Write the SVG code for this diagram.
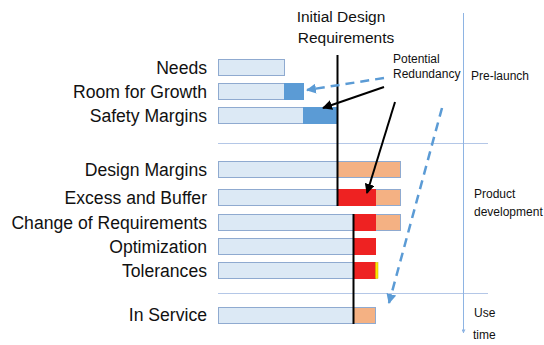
<svg xmlns="http://www.w3.org/2000/svg" width="544" height="345" viewBox="0 0 544 345">
<style>
.lbl{font-family:"Liberation Sans",Arial,sans-serif;font-size:17.6px;fill:#111;text-anchor:end}
.sm{font-family:"Liberation Sans",Arial,sans-serif;font-size:12px;fill:#111}
.hd{font-family:"Liberation Sans",Arial,sans-serif;font-size:15.5px;fill:#111}
.bar{fill:#DCE9F5;stroke:#8FAAD0;stroke-width:1}
.dk{fill:#5B9BD5;stroke:#5B9BD5;stroke-width:1}
.or{fill:#F4B183;stroke:#8FAAD0;stroke-width:1}
.rd{fill:#EE2222;stroke:#EE2222;stroke-width:1}
.div{stroke:#B4C7E7;stroke-width:1;fill:none}
.blk{stroke:#000;stroke-width:2;fill:none}
.bd{stroke:#5B9BD5;stroke-width:2.5;stroke-dasharray:9,6;fill:none}
</style>
<defs>
<marker id="ab" viewBox="0 0 10 10" refX="9" refY="5" markerWidth="5" markerHeight="5" orient="auto" markerUnits="strokeWidth"><path d="M0,0 L10,5 L0,10 z" fill="#000"/></marker>
<marker id="ub" viewBox="0 0 10 10" refX="9" refY="5" markerWidth="4" markerHeight="4" orient="auto" markerUnits="strokeWidth"><path d="M0,0 L10,5 L0,10 z" fill="#5B9BD5"/></marker>
<marker id="tb" viewBox="0 0 10 10" refX="9" refY="5" markerWidth="4" markerHeight="4" orient="auto"><path d="M0,0 L10,5 L0,10 z" fill="#8EB4E3"/></marker>
</defs>
<g id="dividers">
<line class="div" x1="218" y1="143.5" x2="488" y2="143.5"/>
<line class="div" x1="218" y1="293.5" x2="488" y2="293.5"/>
<line x1="463.5" y1="13" x2="463.5" y2="333" stroke="#8EB4E3" stroke-width="1" marker-end="url(#tb)"/>
</g>
<g id="phases">
<text class="sm" x="471" y="80">Pre-launch</text>
<text class="sm" x="474" y="198">Product</text>
<text class="sm" x="474" y="216">development</text>
<text class="sm" x="474" y="317">Use</text>
<text class="sm" x="473" y="339">time</text>
</g>
<g id="initial-design">
<text class="hd" x="341" y="22" text-anchor="middle">Initial Design</text>
<text class="hd" x="346" y="43" text-anchor="middle">Requirements</text>
</g>
<g id="potential-redundancy">
<text class="sm" x="393" y="63">Potential</text>
<text class="sm" x="393" y="78">Redundancy</text>
</g>
<g id="needs"><text class="lbl" x="207" y="74">Needs</text><rect class="bar" x="218.5" y="59.5" width="66" height="16"/></g>
<g id="room-for-growth"><text class="lbl" x="207" y="98">Room for Growth</text><rect class="bar" x="218.5" y="83.5" width="66" height="16"/><rect class="dk" x="284.5" y="83.5" width="19" height="16"/></g>
<g id="safety-margins"><text class="lbl" x="207" y="122">Safety Margins</text><rect class="bar" x="218.5" y="107.5" width="85" height="16"/><rect class="dk" x="303.5" y="107.5" width="34" height="16"/></g>
<g id="design-margins"><text class="lbl" x="207" y="176">Design Margins</text><rect class="bar" x="218.5" y="161.5" width="119" height="16"/><rect class="or" x="337.5" y="161.5" width="63" height="16"/></g>
<g id="excess-and-buffer"><text class="lbl" x="207" y="204">Excess and Buffer</text><rect class="bar" x="218.5" y="189.5" width="119" height="16"/><rect class="or" x="375.5" y="189.5" width="25" height="16"/><rect class="rd" x="337.5" y="189.5" width="38" height="16"/></g>
<g id="change-of-requirements"><text class="lbl" x="207" y="229">Change of Requirements</text><rect class="bar" x="218.5" y="214.5" width="135" height="16"/><rect class="or" x="375.5" y="214.5" width="25" height="16"/><rect class="rd" x="353.5" y="214.5" width="22" height="16"/></g>
<g id="optimization"><text class="lbl" x="207" y="253">Optimization</text><rect class="bar" x="218.5" y="238.5" width="135" height="16"/><rect class="rd" x="353.5" y="238.5" width="22" height="16"/></g>
<g id="tolerances"><text class="lbl" x="207" y="277">Tolerances</text><rect class="bar" x="218.5" y="262.5" width="135" height="16"/><rect class="rd" x="353.5" y="262.5" width="22" height="16"/><rect x="375.5" y="262.5" width="2.5" height="16" fill="#FFE600" stroke="#C8B400" stroke-width="0.5"/></g>
<g id="in-service"><text class="lbl" x="207" y="321">In Service</text><rect class="bar" x="218.5" y="307.5" width="135" height="16"/><rect class="or" x="353.5" y="307.5" width="22" height="16"/></g>
<g id="connectors">
<line class="blk" x1="337.5" y1="55" x2="337.5" y2="206"/>
<line class="blk" x1="353.5" y1="214" x2="353.5" y2="324"/>
<line class="blk" x1="384" y1="87" x2="323" y2="108" marker-end="url(#ab)"/>
<line class="blk" x1="395" y1="102" x2="367" y2="193" marker-end="url(#ab)"/>
<line class="bd" x1="384" y1="78" x2="307" y2="90" marker-end="url(#ub)"/>
<line class="bd" x1="442" y1="108" x2="389" y2="303" marker-end="url(#ub)"/>
</g>
</svg>
